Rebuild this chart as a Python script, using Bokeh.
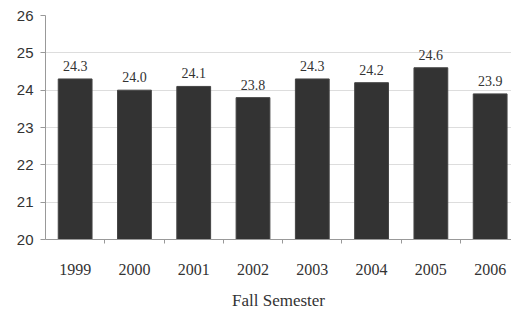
from bokeh.plotting import figure
from bokeh.models import ColumnDataSource, FixedTicker, Range1d
from bokeh.embed import file_html
from bokeh.resources import INLINE
from bokeh.core.properties import value

years = ["1999", "2000", "2001", "2002", "2003", "2004", "2005", "2006"]
values = [24.3, 24.0, 24.1, 23.8, 24.3, 24.2, 24.6, 23.9]
value_labels = ["24.3", "24.0", "24.1", "23.8", "24.3", "24.2", "24.6", "23.9"]
y_ticks = [20, 21, 22, 23, 24, 25, 26]

xs = list(range(len(years)))
src = ColumnDataSource(dict(x=xs, top=values, lab=value_labels))

p = figure(width=511, height=313, output_backend="svg", toolbar_location=None,
           x_range=Range1d(-0.5, 7.36), y_range=Range1d(20, 26),
           min_border_left=45, min_border_top=15, min_border_right=0, min_border_bottom=74)
p.outline_line_color = None
p.background_fill_color = "white"

p.vbar(x="x", top="top", bottom=20, width=0.57, source=src,
       fill_color="#333333", line_color="#444444", line_width=1)
p.text(x="x", y="top", text="lab", source=src, y_offset=-8,
       text_align="center", text_baseline="bottom",
       text_font=value("Liberation Serif"), text_font_size="14px", text_color="#333333")

p.xgrid.visible = False
p.ygrid.grid_line_color = "#dddddd"
p.ygrid.ticker = FixedTicker(ticks=y_ticks)

p.yaxis.ticker = FixedTicker(ticks=y_ticks)
p.yaxis.major_label_text_font = "Liberation Sans"
p.yaxis.major_label_text_font_size = "15px"
p.yaxis.major_label_text_color = "#333333"
p.yaxis.axis_line_color = "#999999"
p.yaxis.major_tick_line_color = "#999999"
p.yaxis.major_tick_out = 5
p.yaxis.major_tick_in = 0
p.yaxis.minor_tick_line_color = None
p.yaxis.major_label_standoff = 7

p.xaxis.ticker = FixedTicker(ticks=xs, minor_ticks=[i + 0.5 for i in xs])
p.xaxis.major_label_overrides = {i: y for i, y in enumerate(years)}
p.xaxis.major_label_text_font = "Liberation Serif"
p.xaxis.major_label_text_font_size = "16px"
p.xaxis.major_label_text_color = "#333333"
p.xaxis.major_tick_line_color = None
p.xaxis.major_tick_out = 0
p.xaxis.major_tick_in = 0
p.xaxis.minor_tick_out = 4
p.xaxis.minor_tick_in = 0
p.xaxis.minor_tick_line_color = "#999999"
p.xaxis.axis_line_color = "#999999"
p.xaxis.major_label_standoff = 20
p.xaxis.axis_label = "Fall Semester"
p.xaxis.axis_label_text_font = "Liberation Serif"
p.xaxis.axis_label_text_font_style = "normal"
p.xaxis.axis_label_text_font_size = "17px"
p.xaxis.axis_label_text_color = "#333333"
p.xaxis.axis_label_standoff = 13

open("out.html", "w").write(file_html(p, INLINE))
